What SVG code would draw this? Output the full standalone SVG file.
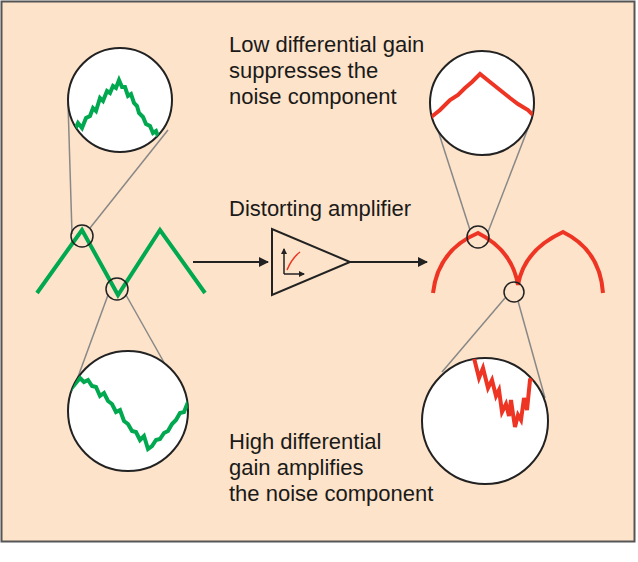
<svg xmlns="http://www.w3.org/2000/svg" width="638" height="562" viewBox="0 0 638 562">
<defs>
<style>
.t{font-family:"Liberation Sans",Arial,sans-serif;font-size:22px;fill:#1a1a1a}
.big{fill:#fff;stroke:#222;stroke-width:2}
.sm{fill:none;stroke:#222;stroke-width:1.5}
.g{fill:none;stroke:#00a84f;stroke-width:4;stroke-linejoin:miter}
.r{fill:none;stroke:#ee3524;stroke-width:4}
.ln{stroke:#888;stroke-width:1.5}
.c{stroke:#222;stroke-width:2;fill:none}
</style>
<marker id="ah" markerWidth="10" markerHeight="10" refX="9" refY="5" orient="auto" markerUnits="userSpaceOnUse"><path d="M0,0 L10,5 L0,10Z" fill="#222"/></marker>
<marker id="ah2" markerWidth="6" markerHeight="6" refX="5" refY="3" orient="auto" markerUnits="userSpaceOnUse"><path d="M0,0 L6,3 L0,6Z" fill="#222"/></marker>
<clipPath id="c1"><circle cx="120" cy="100" r="52"/></clipPath>
<clipPath id="c2"><circle cx="482" cy="103" r="52"/></clipPath>
<clipPath id="c3"><circle cx="128" cy="411" r="60"/></clipPath>
<clipPath id="c4"><circle cx="485" cy="421" r="63"/></clipPath>
</defs>
<rect x="1.5" y="1.5" width="633" height="540" fill="#fde3c9" stroke="#555" stroke-width="2"/>
<g id="connectors">
<line class="ln" x1="72" y1="234" x2="68" y2="103"/>
<line class="ln" x1="90" y1="228" x2="168" y2="130"/>
<line class="ln" x1="108" y1="295" x2="75" y2="385"/>
<line class="ln" x1="126" y1="295" x2="188" y2="405"/>
<line class="ln" x1="470" y1="230" x2="434" y2="118"/>
<line class="ln" x1="488" y1="232" x2="532" y2="118"/>
<line class="ln" x1="505" y1="298" x2="442" y2="372"/>
<line class="ln" x1="518" y1="301" x2="545" y2="398"/>
<line class="c" x1="193" y1="262" x2="268" y2="262" marker-end="url(#ah)"/>
<line class="c" x1="350" y1="262" x2="427" y2="262" marker-end="url(#ah)"/>
</g>
<g id="input-signal">
<polyline class="g" points="37,293 82,230 118,295 160,230 205,293"/>
<circle class="sm" cx="82" cy="236" r="11"/>
<circle class="sm" cx="117" cy="289" r="11"/>
</g>
<g id="output-signal">
<path class="r" d="M433,293 Q438,250 478,233 Q512,250 518,285 Q524,250 563,232 Q600,250 603,293"/>
<circle class="sm" cx="478" cy="237" r="11"/>
<circle class="sm" cx="514" cy="292" r="10"/>
</g>
<g id="amplifier">
<polygon points="272,229 272,295 350,262" fill="none" stroke="#222" stroke-width="2"/>
<line x1="284" y1="274" x2="284" y2="249" stroke="#222" stroke-width="1.5" marker-end="url(#ah2)"/>
<line x1="284" y1="274" x2="304" y2="274" stroke="#222" stroke-width="1.5" marker-end="url(#ah2)"/>
<path d="M287,270 Q292,258 300,252" fill="none" stroke="#ee3524" stroke-width="1.5"/>
</g>
<g id="zoom-top-left">
<circle class="big" cx="120" cy="100" r="52"/>
<polyline class="g" clip-path="url(#c1)" points="72,136 78,123 82,128 86,118 90,116 93,108 96,111 100,98 103,101 107,91 110,93 113,86 116,88 119,80 122,87 125,87 128,96 131,94 134,103 137,106 139,113 143,117 146,124 150,126 153,133 156,131 159,139 162,139 165,149 168,147 171,155 174,153"/>
</g>
<g id="zoom-top-right">
<circle class="big" cx="482" cy="103" r="52"/>
<polyline class="r" clip-path="url(#c2)" points="430,118 440,110 450,100 458,95 465,88 472,82 480,74 490,82 500,90 510,98 518,104 528,110 540,122"/>
</g>
<g id="zoom-bottom-left">
<circle class="big" cx="128" cy="411" r="60"/>
<polyline class="g" clip-path="url(#c3)" points="66,395 80,378 84,382 88,380 92,386 96,387 100,396 104,393 108,401 112,404 116,412 120,410 124,421 128,424 132,431 136,432 140,440 144,436 148,449 152,446 156,440 160,439 164,433 168,431 172,424 176,420 180,413 184,412 188,402 192,398"/>
</g>
<g id="zoom-bottom-right">
<circle class="big" cx="485" cy="421" r="63"/>
<polyline class="r" clip-path="url(#c4)" points="474,358 479,378 483,368 488,388 492,380 496,396 499,390 502,412 506,404 509,416 511,400 513,414 515,427 518,415 521,420 524,398 527,410 530,380 535,378 545,370"/>
</g>
<g id="labels">
<text class="t" x="229" y="52">Low differential gain</text>
<text class="t" x="229" y="78">suppresses the</text>
<text class="t" x="229" y="104">noise component</text>
<text class="t" x="229" y="216">Distorting amplifier</text>
<text class="t" x="229" y="449">High differential</text>
<text class="t" x="229" y="475">gain amplifies</text>
<text class="t" x="229" y="501">the noise component</text>
</g>
</svg>
